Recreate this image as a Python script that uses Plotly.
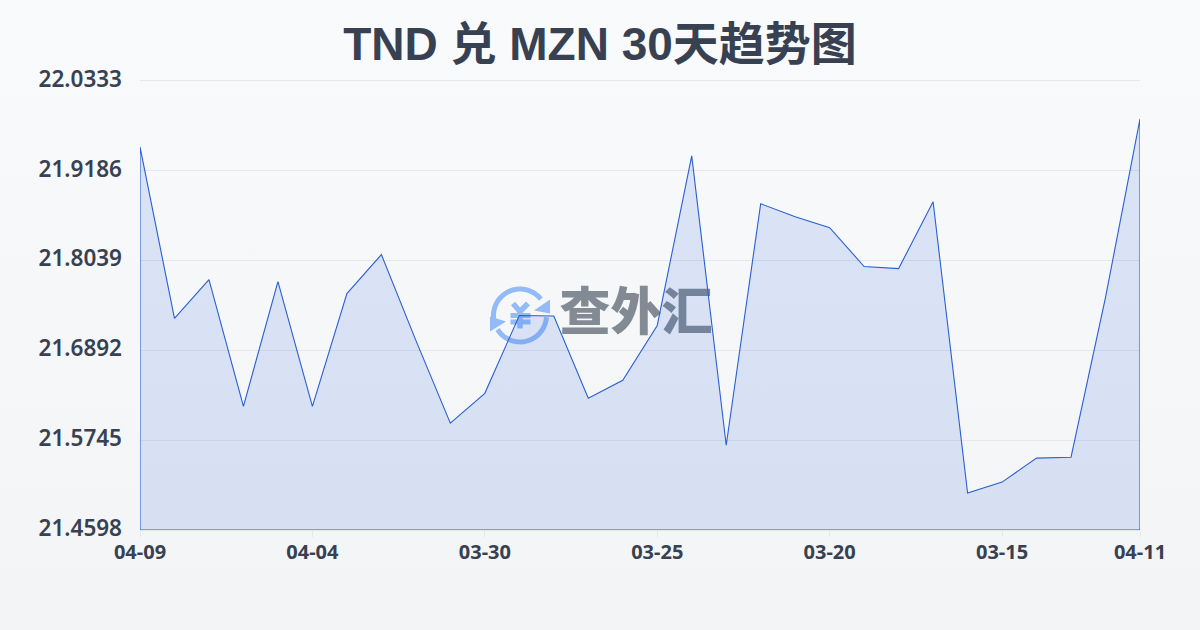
import math
import plotly.graph_objects as go

title = "TND 兑 MZN 30天趋势图"
dates = ["04-09","04-08","04-07","04-06","04-05","04-04","04-03","04-02","04-01","03-31",
         "03-30","03-29","03-28","03-27","03-26","03-25","03-24","03-23","03-22","03-21",
         "03-20","03-19","03-18","03-17","03-16","03-15","03-14","03-13","03-12","04-11"]
rates = [21.9492,21.7300,21.7797,21.6178,21.7771,21.6178,21.7618,21.8116,21.7020,21.5962,
         21.6344,21.7338,21.7332,21.6280,21.6510,21.7211,21.9377,21.5681,21.8765,21.8600,
         21.8460,21.7963,21.7937,21.8791,21.5070,21.5210,21.5516,21.5528,21.7568,21.9849]
x_ticks = ["04-09","04-04","03-30","03-25","03-20","03-15","04-11"]
y_ticks = [21.4598,21.5745,21.6892,21.8039,21.9186,22.0333]
y_labels = ["21.4598","21.5745","21.6892","21.8039","21.9186","22.0333"]
watermark = "查外汇"

FONT = "Noto Sans, Noto Sans CJK SC, sans-serif"
TITLE_FONT = "Liberation Sans, Noto Sans CJK SC, sans-serif"
TXT = "#374151"
ICON = "#93bbf8"

# watermark icon helpers: page pixels to paper coordinates of the plot area
def P(x, y):
    return f"{(x-140)/1000:.5f},{1-(y-80)/450:.5f}"
def poly(points, close=False):
    s = "M" + " L".join(P(*p) for p in points)
    return s + (" Z" if close else "")
def arc(cx, cy, r, a0, a1, n=40):
    return [(cx + r*math.cos(math.radians(a0+(a1-a0)*i/n)),
             cy - r*math.sin(math.radians(a0+(a1-a0)*i/n))) for i in range(n+1)]

def stroke(path, w):
    return dict(type="path", xref="paper", yref="paper", path=path, layer="below",
                line=dict(color=ICON, width=w), fillcolor="rgba(0,0,0,0)")
def solid(path):
    return dict(type="path", xref="paper", yref="paper", path=path, layer="below",
                line=dict(width=0), fillcolor=ICON)

icon = [
    stroke(poly(arc(520, 315, 26.5, 187, 38)), 5),
    stroke(poly(arc(520, 315, 26.5, -4, -148)), 5),
    solid(poly([(550,299),(550,313),(534,310)], True)),
    solid(poly([(490,316),(490,331),(506,321)], True)),
    stroke(poly([(513,303),(520,311),(528,303)]), 5.5),
    stroke(poly([(520,311),(520,328)]), 5.5),
    stroke(poly([(510.5,315),(530.5,315)]), 5),
    stroke(poly([(510.5,321.5),(530.5,321.5)]), 5),
]
label = dict(type="rect", xref="paper", yref="paper",
             x0=(561-140)/1000, x1=(711-140)/1000, y0=1-(346-80)/450, y1=1-(286-80)/450,
             layer="below", line=dict(width=0), fillcolor="rgba(0,0,0,0)",
             label=dict(text=watermark, textposition="middle center",
                        font=dict(size=51, color="rgba(75,85,99,0.68)", family="Noto Sans CJK SC, sans-serif", weight=900)))

fig = go.Figure()
fig.add_trace(go.Scatter(
    x=dates + [dates[-1], dates[0], dates[0]],
    y=rates + [y_ticks[0], y_ticks[0], rates[0]],
    mode="lines", fill="toself", cliponaxis=False,
    fillcolor="rgba(40,100,220,0.14)",
    line=dict(color="#2b5fd0", width=1.1),
    hoverinfo="skip", showlegend=False,
))
fig.update_layout(
    width=1200, height=630,
    margin=dict(l=140, r=60, t=80.5, b=99.5),
    paper_bgcolor="rgba(0,0,0,0)", plot_bgcolor="rgba(0,0,0,0)",
    font=dict(family=FONT, color=TXT),
    title=dict(text=title, x=0.5, xanchor="center", y=0.93, yanchor="middle",
               font=dict(size=46, color=TXT, family=TITLE_FONT, weight=700)),
    xaxis=dict(type="category", categoryorder="array", categoryarray=dates,
               range=[0, len(dates)-1], tickmode="array", tickvals=x_ticks, ticktext=x_ticks,
               showgrid=False, zeroline=False, showline=True, mirror=True,
               linecolor="#e5e7eb", linewidth=1, layer="below traces",
               ticks="outside", ticklen=6, tickwidth=1, tickcolor="#e5e7eb", ticklabelstandoff=-2,
               tickfont=dict(size=20, color=TXT, weight=700)),
    yaxis=dict(range=[y_ticks[0], y_ticks[-1]], tickmode="array", tickvals=y_ticks, ticktext=y_labels,
               showgrid=True, gridcolor="#e5e7eb", gridwidth=1, zeroline=False, showline=False,
               ticks="", ticklabelstandoff=17, ticklabelshift=-2, layer="below traces",
               tickfont=dict(size=22.5, color=TXT, weight=600)),
    shapes=[label] + icon,
)
post = """
document.body.style.margin='0';
document.documentElement.style.background='linear-gradient(180deg,#f8fafc 0%,#f3f4f6 100%)';
document.body.style.background='transparent';
"""
fig.write_html("out.html", post_script=post, config=dict(displayModeBar=False))
